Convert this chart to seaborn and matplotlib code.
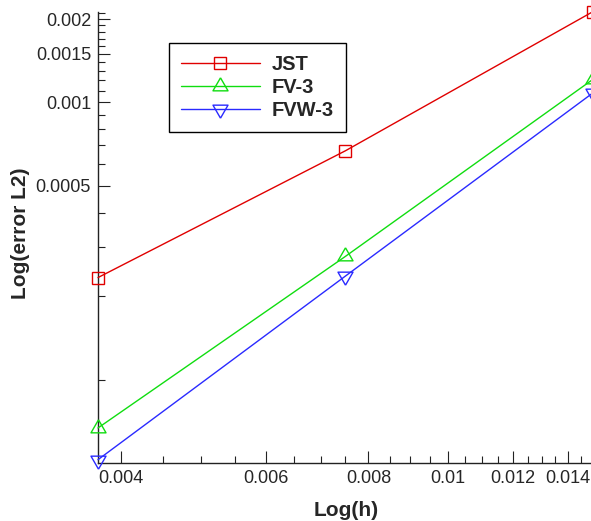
import numpy as np
import pandas as pd
import matplotlib
matplotlib.use("Agg")
import matplotlib.pyplot as plt
import seaborn as sns
from matplotlib.ticker import FixedLocator, FixedFormatter, NullFormatter

# ---- data ----
h = [0.00375, 0.0075, 0.015]
err_jst = [0.0002334, 0.000669, 0.002124]
err_fv3 = [0.0000669, 0.0002782, 0.001210]
err_fvw3 = [0.0000514, 0.0002362, 0.001081]
series_names = ["JST", "FV-3", "FVW-3"]

x_major = [0.004, 0.006, 0.008, 0.01, 0.012, 0.014]
x_major_labels = ["0.004", "0.006", "0.008", "0.01", "0.012", "0.014"]
y_major = [0.0005, 0.001, 0.0015, 0.002]
y_major_labels = ["0.0005", "0.001", "0.0015", "0.002"]

df = pd.DataFrame({
    "h": h * 3,
    "err": err_jst + err_fv3 + err_fvw3,
    "scheme": [n for n in series_names for _ in h],
})

sns.set_style("ticks")
plt.rcParams["font.family"] = ["Liberation Sans", "DejaVu Sans"]

W, H = 591, 521
fig = plt.figure(figsize=(W / 100, H / 100), dpi=100)
ax = fig.add_axes([98 / W, 1 - 463 / H, (592.7 - 98) / W, (463 - 12) / H])

colors = {"JST": "#e00000", "FV-3": "#10dd10", "FVW-3": "#2a2aff"}
tri_up = [(0, 1), (-0.866, -0.5), (0.866, -0.5), (0, 1)]
tri_dn = [(0, -1), (-0.866, 0.5), (0.866, 0.5), (0, -1)]
markers = {"JST": "s", "FV-3": tri_up, "FVW-3": tri_dn}
msizes = {"JST": 8.6, "FV-3": 12.5, "FVW-3": 12.5}

for name in series_names:
    sub = df[df["scheme"] == name]
    sns.lineplot(data=sub, x="h", y="err", ax=ax, color=colors[name],
                 marker=markers[name], markersize=msizes[name],
                 markerfacecolor="none", markeredgecolor=colors[name],
                 markeredgewidth=1.0, linewidth=1.0, label=name,
                 clip_on=False, zorder=3)

ax.set_xscale("log")
ax.set_yscale("log")
ax.set_xlim(0.00375, 0.015)
ax.set_ylim(5.0e-5, 0.00212)

ax.xaxis.set_major_locator(FixedLocator(x_major))
ax.xaxis.set_major_formatter(FixedFormatter(x_major_labels))
x_minor = [round(v, 5) for v in np.arange(0.0035, 0.01501, 0.0005)
           if all(abs(v - m) > 1e-7 for m in x_major)]
ax.xaxis.set_minor_locator(FixedLocator(x_minor))
ax.xaxis.set_minor_formatter(NullFormatter())

ax.yaxis.set_major_locator(FixedLocator(y_major))
ax.yaxis.set_major_formatter(FixedFormatter(y_major_labels))
y_minor = [round(v, 5) for v in np.arange(0.0001, 0.00211, 0.0001)
           if all(abs(v - m) > 1e-8 for m in y_major)]
ax.yaxis.set_minor_locator(FixedLocator(y_minor))
ax.yaxis.set_minor_formatter(NullFormatter())

ax.tick_params(which="major", direction="in", length=8.6, width=0.8,
               labelsize=13, color="#222222", pad=5)
ax.tick_params(which="minor", direction="in", length=5, width=0.8,
               color="#222222")

sns.despine(ax=ax, top=True, right=True)
for s in ["left", "bottom"]:
    ax.spines[s].set_linewidth(1.0)
    ax.spines[s].set_color("#222222")

ax.set_xlabel("")
ax.set_ylabel("")
fig.text(346.5 / W, 1 - 510 / H, "Log(h)", ha="center", va="center",
         fontsize=15, fontweight="bold")
fig.text(21 / W, 1 - 233 / H, "Log(error L2)", ha="center", va="center",
         rotation=90, fontsize=15, fontweight="bold")

leg = ax.legend(loc="upper left", bbox_to_anchor=(169 / W, 1 - 43 / H),
                bbox_transform=fig.transFigure, frameon=True, fancybox=False,
                shadow=False, prop={"size": 14.5, "weight": "bold"},
                handlelength=3.9, handletextpad=0.62, labelspacing=0.2,
                borderpad=0.6, borderaxespad=0)
leg.get_frame().set_edgecolor("black")
leg.get_frame().set_linewidth(1.0)
leg.get_frame().set_alpha(1)

fig.savefig("out.png", dpi=100)
